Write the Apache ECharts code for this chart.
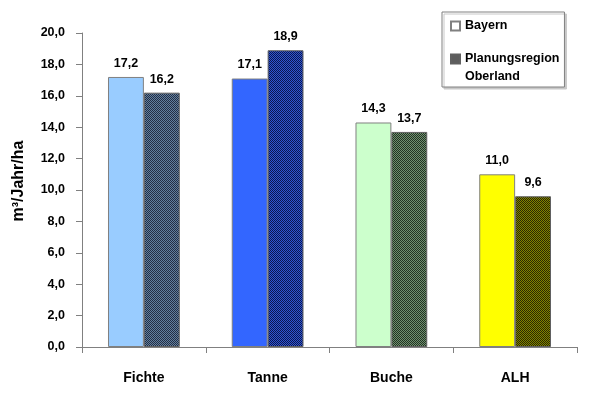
<!DOCTYPE html>
<html>
<head>
<meta charset="utf-8">
<script src="https://cdn.jsdelivr.net/npm/echarts@6/dist/echarts.min.js"></script>
<style>
html,body{margin:0;padding:0;background:#fff;}
#main{width:600px;height:399px;}
</style>
</head>
<body>
<div id="main"></div>
<script>
// ---- data ----
var categories = ['Fichte', 'Tanne', 'Buche', 'ALH'];
var seriesNames = ['Bayern', 'Planungsregion Oberland'];
var bayernValues = [17.2, 17.1, 14.3, 11.0];
var oberlandValues = [16.2, 18.9, 13.7, 9.6];
var yAxisName = 'm³/Jahr/ha';

// ---- styles ----
var FONT = '"Liberation Sans", Arial, sans-serif';
var bayernColors = ['#99ccff', '#3366ff', '#ccffcc', '#ffff00'];
var oberlandPairs = [
  ['#62809f', '#232e44'],
  ['#2f55d0', '#0a1650'],
  ['#6f906f', '#223222'],
  ['#828200', '#2a2a00']
];
function checker(light, dark) {
  var c = document.createElement('canvas');
  c.width = 2; c.height = 2;
  var ctx = c.getContext('2d');
  ctx.fillStyle = light; ctx.fillRect(0, 0, 2, 2);
  ctx.fillStyle = dark; ctx.fillRect(0, 0, 1, 1); ctx.fillRect(1, 1, 1, 1);
  return { image: c, repeat: 'repeat' };
}
function fmt(v) { return Number(v).toFixed(1).replace('.', ','); }

var chart = echarts.init(document.getElementById('main'), null, { renderer: 'canvas' });
var option = {
  backgroundColor: '#ffffff',
  animation: false,
  grid: { left: 82, right: 23, top: 33, bottom: 52, containLabel: false },
  legend: {
    left: 442, top: 12,
    orient: 'vertical',
    icon: 'rect',
    itemWidth: 9, itemHeight: 9, itemGap: -3,
    padding: [5, 5, 1, 8],
    borderColor: '#808080', borderWidth: 1,
    backgroundColor: '#ffffff',
    shadowColor: '#c8c8c8', shadowOffsetX: 2, shadowOffsetY: 2, shadowBlur: 0,
    selectedMode: false,
    data: [seriesNames[0], seriesNames[1]],
    formatter: function (n) { return n === seriesNames[1] ? ' \nPlanungsregion\nOberland' : n; },
    textStyle: { fontFamily: FONT, fontWeight: 'bold', fontSize: 12.5, lineHeight: 18, color: '#000' }
  },
  xAxis: {
    type: 'category',
    data: categories,
    axisLine: { lineStyle: { color: '#808080', width: 1 } },
    axisTick: { show: true, length: 6, lineStyle: { color: '#808080' }, alignWithLabel: false },
    axisLabel: { margin: 24, fontFamily: FONT, fontWeight: 'bold', fontSize: 14, color: '#000' },
    splitLine: { show: false }
  },
  yAxis: {
    type: 'value',
    min: 0, max: 20, interval: 2,
    name: yAxisName,
    nameLocation: 'middle',
    nameRotate: 90,
    nameGap: 55,
    nameTextStyle: { fontFamily: FONT, fontWeight: 'bold', fontSize: 16, color: '#000', padding: [0, 0, 0, 18] },
    axisLine: { show: true, lineStyle: { color: '#808080', width: 1 } },
    axisTick: { show: true, length: 6, lineStyle: { color: '#808080' } },
    axisLabel: { margin: 17, formatter: fmt, fontFamily: FONT, fontWeight: 'bold', fontSize: 12.5, color: '#000' },
    splitLine: { show: false }
  },
  series: [
    {
      name: seriesNames[0],
      type: 'bar',
      barGap: '0%',
      barCategoryGap: '42%',
      itemStyle: { color: '#ffffff', borderColor: '#808080', borderWidth: 1 },
      data: bayernValues.map(function (v, i) {
        return { value: v, itemStyle: { color: bayernColors[i], borderColor: '#808080', borderWidth: 1 } };
      }),
      label: { show: true, position: 'top', distance: 7, formatter: function (p) { return fmt(p.value); },
        fontFamily: FONT, fontWeight: 'bold', fontSize: 12.5, color: '#000' }
    },
    {
      name: seriesNames[1],
      type: 'bar',
      barGap: '0%',
      barCategoryGap: '42%',
      itemStyle: { color: checker('#8a8a8a', '#303030'), borderColor: '#606060', borderWidth: 1 },
      data: oberlandValues.map(function (v, i) {
        return { value: v, itemStyle: { color: checker(oberlandPairs[i][0], oberlandPairs[i][1]), borderColor: '#606060', borderWidth: 1 } };
      }),
      label: { show: true, position: 'top', distance: 7, formatter: function (p) { return fmt(p.value); },
        fontFamily: FONT, fontWeight: 'bold', fontSize: 12.5, color: '#000' }
    }
  ]
};
chart.setOption(option);
</script>
</body>
</html>
